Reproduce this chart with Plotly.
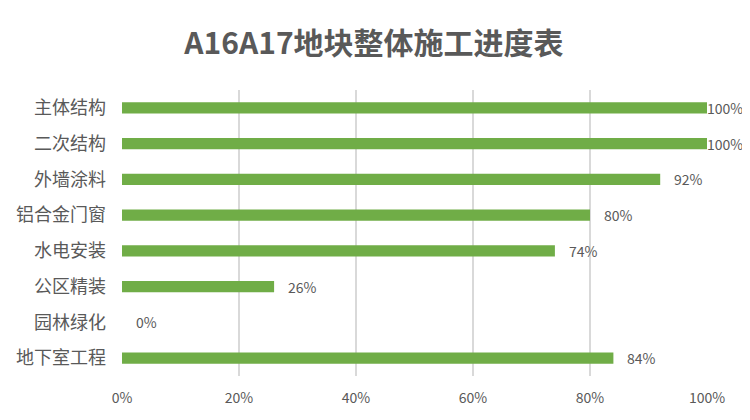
import plotly.graph_objects as go

categories = ["主体结构", "二次结构", "外墙涂料", "铝合金门窗", "水电安装", "公区精装", "园林绿化", "地下室工程"]
values = [100, 100, 92, 80, 74, 26, 0, 84]
x_ticks = [0, 20, 40, 60, 80, 100]
x_tick_labels = ["0%", "20%", "40%", "60%", "80%", "100%"]
title_text = "A16A17地块整体施工进度表"

GREEN = "#70AD47"
GRAY = "#595959"
FONT = "Noto Sans CJK SC"

fig = go.Figure()
fig.add_trace(go.Bar(
    y=categories,
    x=values,
    orientation="h",
    marker=dict(color=GREEN, line=dict(width=0)),
    width=0.31,
    hoverinfo="skip",
))

annotations = []
for c, v in zip(categories, values):
    annotations.append(dict(
        x=v, y=c, xref="x", yref="y",
        text=f"{v}%", showarrow=False,
        xanchor="left", yanchor="middle",
        xshift=12 if v < 100 else -2,
        font=dict(family=FONT, size=14, color=GRAY),
    ))

fig.update_layout(
    width=750, height=420,
    margin=dict(l=114, r=51, t=82, b=52, autoexpand=False),
    paper_bgcolor="white", plot_bgcolor="white",
    showlegend=False,
    title=dict(text=f"<b>{title_text}</b>", x=366 / 750, xanchor="center",
               y=1 - 35 / 420, yanchor="middle", automargin=False,
               font=dict(family=FONT, size=30, color=GRAY)),
    annotations=annotations,
    xaxis=dict(range=[0, 100], tickvals=x_ticks, ticktext=x_tick_labels,
               showgrid=True, gridcolor="#D9D9D9", gridwidth=2,
               zeroline=False, showline=False, ticks="", automargin=False,
               ticklabelstandoff=12,
               tickfont=dict(family=FONT, size=14, color=GRAY)),
    yaxis=dict(autorange="reversed", showgrid=False, zeroline=False,
               showline=False, ticks="", ticklabelstandoff=15, automargin=False,
               tickfont=dict(family=FONT, size=18, color=GRAY)),
)

fig.write_html("out.html")
